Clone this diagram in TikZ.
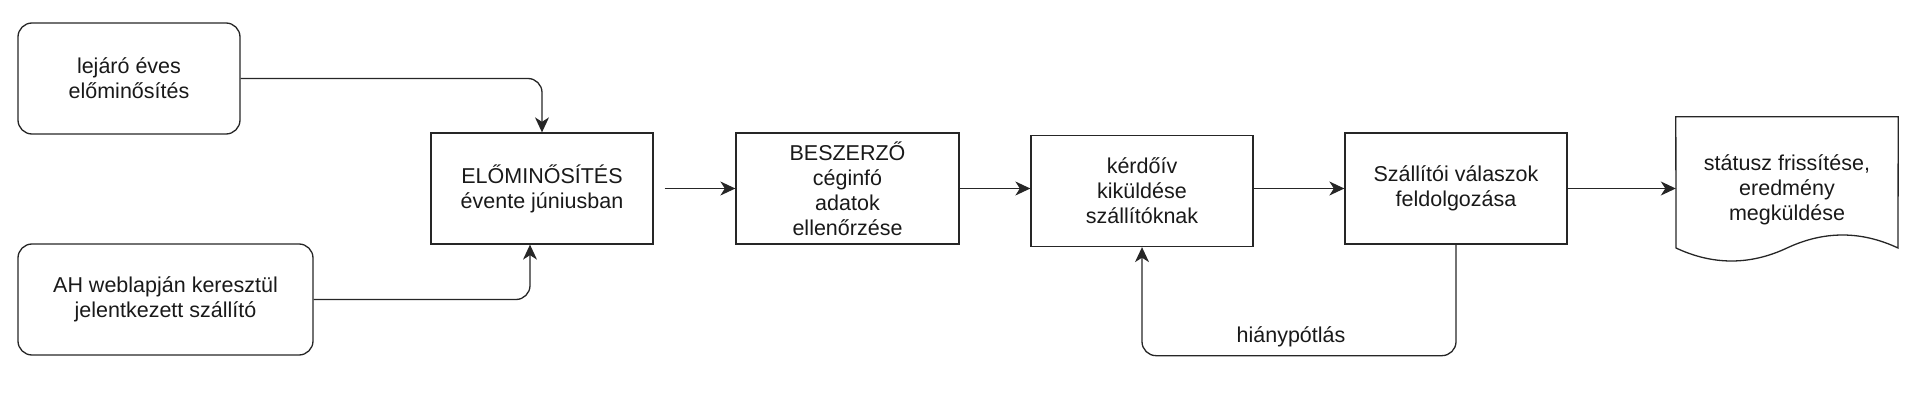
\documentclass[tikz,border=0pt]{standalone}
\usepackage{fontspec}
\setmainfont{Liberation Sans}
\usetikzlibrary{arrows.meta,calc}
\begin{document}
\begin{tikzpicture}[x=1pt,y=-1pt,
  every node/.style={font=\fontsize{21.5}{25}\selectfont, align=center, inner sep=0pt, text=black!90},
  procbox/.style={draw=black!85, line width=1.3pt, minimum width=222pt, minimum height=111pt},
  roundbox/.style={procbox, rounded corners=14pt},
  conn/.style={draw=black!85, line width=1.3pt, -{Stealth[length=15pt,width=14pt,inset=4.5pt]}, rounded corners=14pt},
  docline/.style={draw=black!85, line width=1.3pt}
]
\useasboundingbox (0,0) rectangle (1920,401);
\node[roundbox] (A) at (129,78.5) {lejáró éves\\előminősítés};
\node[roundbox, minimum width=295pt] (B) at (165.5,299.5) {AH weblapján keresztül\\jelentkezett szállító};
\node[procbox] (C) at (542,188.5) {ELŐMINŐSÍTÉS\\évente júniusban};
\node[procbox, minimum width=223pt] (D) at (847.5,188.5) {BESZERZŐ\\céginfó\\adatok\\ellenőrzése};
\node[procbox] (E) at (1142,191) {kérdőív\\kiküldése\\szállítóknak};
\node[procbox] (F) at (1456,188.5) {Szállítói válaszok\\feldolgozása};
\node[minimum width=222pt, minimum height=146pt] (G) at (1787,190) {státusz frissítése,\\eredmény\\megküldése};
\draw[docline] (G.north west) -- (G.north east) -- (1898,248)
  .. controls (1861,230.67) and (1824,230.67) .. (1787,248)
  .. controls (1750,265.33) and (1713,265.33) .. (1676,248) -- cycle;
\coordinate (Cin) at ($(C.south)+(-12,0)$);
\draw[conn] (A.east) -| (C.north);
\draw[conn] (B.east) -| (Cin);
\draw[conn, shorten <=11pt] (C.east) -- (D.west);
\draw[conn] (D.east) -- (D.east -| E.west);
\draw[conn] (E.east |- F.west) -- (F.west);
\draw[conn] (F.east) -- (F.east -| G.west);
\draw[conn] (F.south) -- ++(0,111) -| (E.south);
\node (L) at (1291,337) {hiánypótlás};
\end{tikzpicture}
\end{document}
